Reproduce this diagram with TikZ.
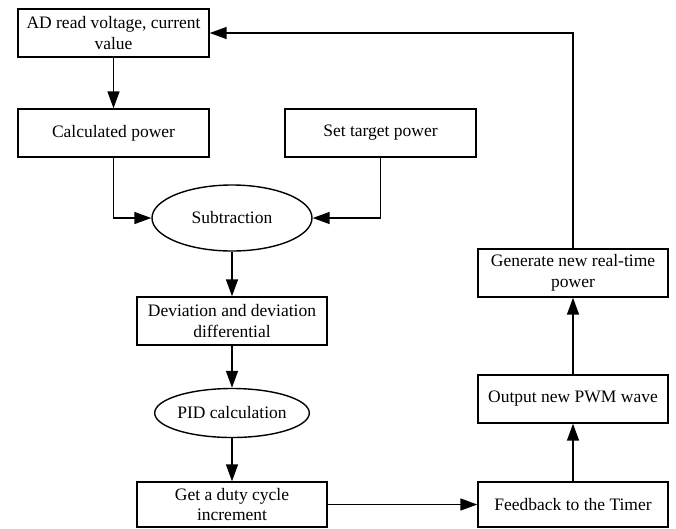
\documentclass[tikz,border=0pt]{standalone}
\usepackage{fontspec}
\setmainfont{Liberation Serif}
\usetikzlibrary{arrows.meta,shapes.geometric}
\begin{document}
\begin{tikzpicture}[x=1pt,y=-1pt,
  every node/.style={font=\fontsize{17.5}{20.5}\selectfont, align=center, inner sep=0pt},
  box/.style={draw, line width=1.4pt, minimum width=191pt, minimum height=48pt},
  ell/.style={draw, ellipse, line width=1.4pt},
  conn/.style={line width=1.5pt, -{Triangle[length=17pt,width=12pt]}}
]
\useasboundingbox (0,0) rectangle (676,528);
\node[box] (ad) at (113.5,33) {AD read voltage, current\\value};
\node[box] (calc) at (113.5,133) {Calculated power};
\node[box] (set) at (380.5,133) {Set target power};
\node[ell, minimum width=160pt, minimum height=66pt] (sub) at (232,218) {Subtraction};
\node[box, minimum width=190pt] (dev) at (232,321) {Deviation and deviation\\differential};
\node[ell, minimum width=138pt, minimum height=49pt] (pid) at (232,413) {PID calculation};
\node[box, minimum width=190pt, minimum height=45pt] (duty) at (232,504.5) {Get a duty cycle\\increment};
\node[box, minimum width=190pt, minimum height=45pt] (fb) at (573,504.5) {Feedback to the Timer};
\node[box, minimum width=190pt] (pwm) at (573,399) {Output new PWM wave};
\node[box, minimum width=190pt] (gen) at (573,273) {Generate new real-time\\power};
\draw[conn] (ad) -- (calc);
\draw[conn] (calc.south) |- (sub.west);
\draw[conn] (set.south) |- (sub.east);
\draw[conn] (sub) -- (dev);
\draw[conn] (dev) -- (pid);
\draw[conn] (pid) -- (duty);
\draw[conn] (duty) -- (fb);
\draw[conn] (fb) -- (pwm);
\draw[conn] (pwm) -- (gen);
\draw[conn] (gen.north) |- (ad.east);
\end{tikzpicture}
\end{document}
